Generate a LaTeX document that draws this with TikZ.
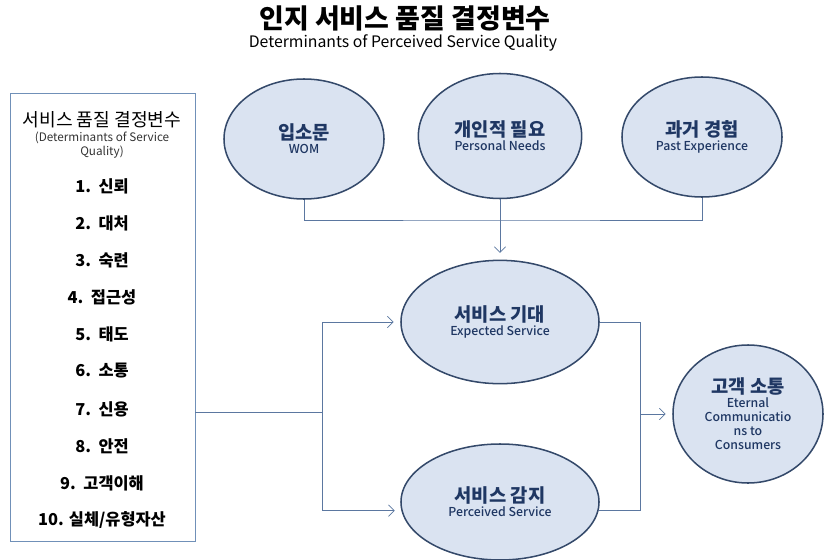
\documentclass[tikz,border=0pt]{standalone}
\usepackage{fontspec}
\setmainfont{Noto Sans CJK KR}
\newfontfamily\mediumfont{Noto Sans CJK KR Medium}
\usepackage{xcolor}
\usepackage{tikz}
\usetikzlibrary{shapes.geometric, arrows.meta, positioning, calc}
\definecolor{ellfill}{HTML}{DAE3F1}
\definecolor{elldraw}{HTML}{34496A}
\definecolor{linecol}{HTML}{5B77A0}
\definecolor{ink}{HTML}{1F3763}
\definecolor{boxdraw}{HTML}{7090B8}
\tikzstyle{factor} = [ellipse, draw=elldraw, line width=1.3pt, fill=ellfill, inner sep=0pt, align=center, text=ink, minimum width=4.8cm, minimum height=3.6cm]
\tikzstyle{svc} = [factor, minimum width=5.94cm, minimum height=3.7cm]
\tikzstyle{item} = [font=\fontsize{14}{16}\selectfont\bfseries, text=black]
\tikzstyle{wire} = [draw=linecol, line width=0.6pt]
\tikzstyle{arr} = [wire, -{Straight Barb[length=1.7mm, width=3.4mm]}, shorten >=2mm]
\newcommand{\kr}[1]{{\fontsize{16}{19}\selectfont\bfseries #1}}
\newcommand{\en}[1]{{\mediumfont\fontsize{10.5}{12.4}\selectfont #1}}

\begin{document}
\begin{tikzpicture}[x=0.03cm, y=-0.03cm]
  \useasboundingbox (0,0) rectangle (832,560);
  % Title
  \node[font=\fontsize{23}{26}\selectfont\bfseries] (title) at (405,18) {인지 서비스 품질 결정변수};
  \node[font=\fontsize{13.5}{16}\selectfont] (subtitle) at (403,43) {Determinants of Perceived Service Quality};
  % Left box (determinants)
  \node[draw=boxdraw, line width=0.6pt, minimum width=5.55cm, minimum height=13.44cm] (box) at (102.5,317) {};
  \node[font=\fontsize{15.5}{18}\selectfont] (boxhead) at (102,120) {서비스 품질 결정변수};
  \node[font=\fontsize{10}{12}\selectfont, align=center, text=black!80] (boxsub) at (102,145) {(Determinants of Service\\Quality)};
  \node[item] (i1) at (102,186) {1.\ \ 신뢰};
  \node[item] (i2) at (102,223) {2.\ \ 대처};
  \node[item] (i3) at (102,260) {3.\ \ 숙련};
  \node[item] (i4) at (102,297) {4.\ \ 접근성};
  \node[item] (i5) at (102,334) {5.\ \ 태도};
  \node[item] (i6) at (102,371) {6.\ \ 소통};
  \node[item] (i7) at (102,409) {7.\ \ 신용};
  \node[item] (i8) at (102,446) {8.\ \ 안전};
  \node[item] (i9) at (102,483) {9.\ \ 고객이해};
  \node[item] (i10) at (102,520) {10. 실체/유형자산};
  % Row 1 (sources of expectation)
  \node[factor] (wom) at (304,139) {\kr{입소문}\\\en{WOM}};
  \node[factor, minimum width=4.9cm, minimum height=3.75cm] (needs) at (500,136) {\kr{개인적 필요}\\\en{Personal Needs}};
  \node[factor] (past) at (702,137) {\kr{과거 경험}\\\en{Past Experience}};
  % Row 2 and 3 (expected / perceived)
  \node[svc] (exp) at (500,322) {\kr{서비스 기대}\\\en{Expected Service}};
  \node[svc, minimum height=3.48cm] (perc) at (500,502) {\kr{서비스 감지}\\\en{Perceived Service}};
  % Outcome
  \node[factor, minimum width=4.5cm, minimum height=4.14cm] (cust) at (748,414) {\kr{고객 소통}\\\en{Eternal}\\\en{Communicatio}\\\en{ns to}\\\en{Consumers}};
  % junctions
  \coordinate (bus) at (500,220);
  \coordinate (split) at (322,412);
  \coordinate (join) at (640,414);
  \draw[wire] (wom.south) |- (bus) -| (past.south);
  \draw[arr] (needs.south) -- (exp.north);
  \draw[wire] (box.east |- split) -- (split);
  \draw[arr] (split) |- (exp.west);
  \draw[arr] (split) |- (perc.185);
  \draw[wire] (exp.east) -| (join);
  \draw[wire] (perc.355) -| (join);
  \draw[arr] (join) -- (cust.west);
\end{tikzpicture}
\end{document}
